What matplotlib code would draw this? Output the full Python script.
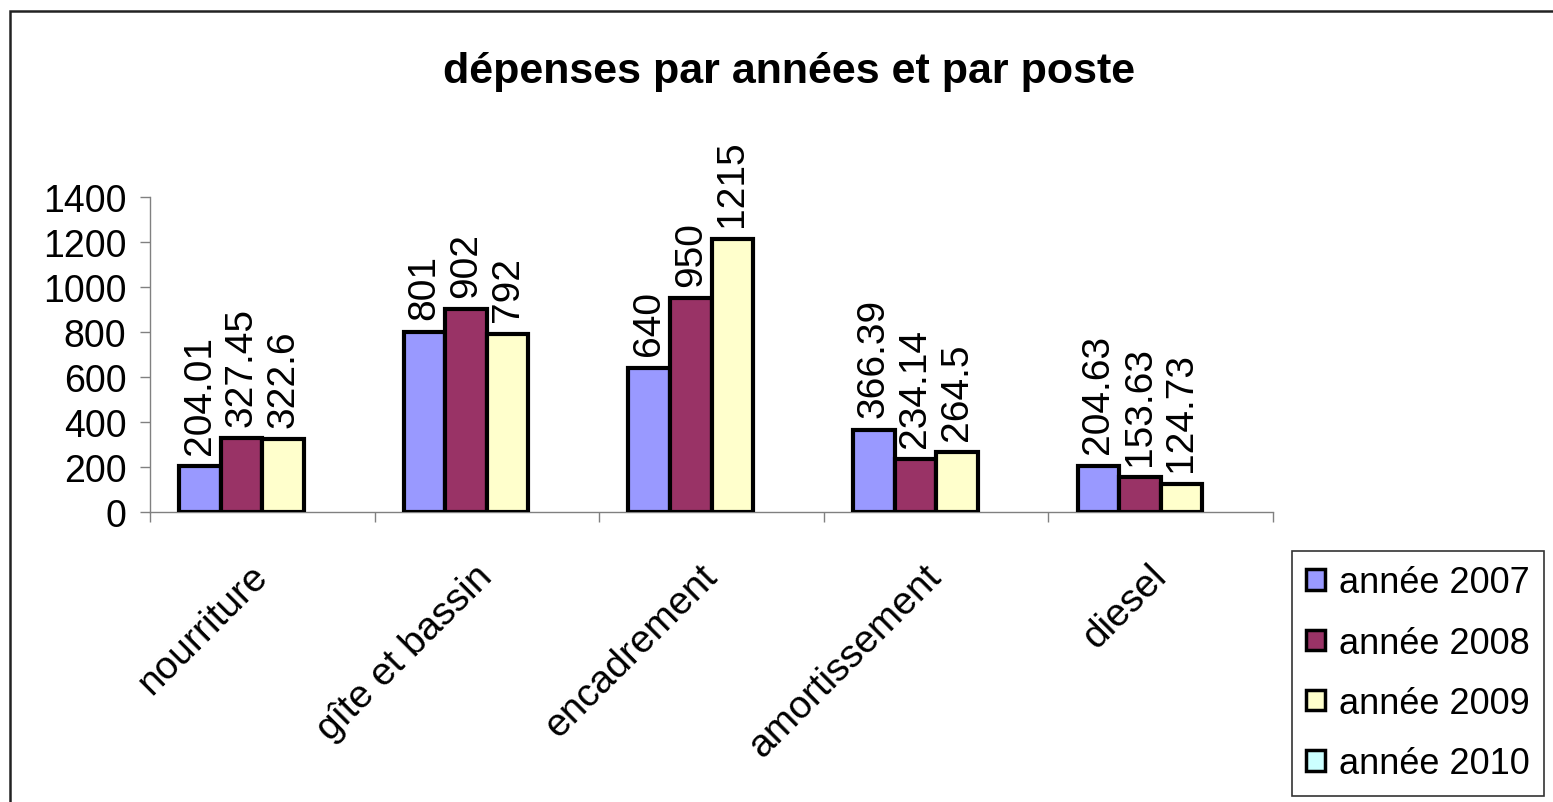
import numpy as np
import matplotlib.pyplot as plt
from matplotlib.patches import Rectangle

plt.rcParams['font.family'] = ['Liberation Sans', 'DejaVu Sans']

postes = ["nourriture", "gîte et bassin", "encadrement", "amortissement", "diesel"]
annees = ["année 2007", "année 2008", "année 2009", "année 2010"]
v2007 = [204.01, 801, 640, 366.39, 204.63]
v2008 = [327.45, 902, 950, 234.14, 153.63]
v2009 = [322.6, 792, 1215, 264.5, 124.73]
v2010 = [np.nan, np.nan, np.nan, np.nan, np.nan]  # no values for 2010
couleurs = ["#9999FF", "#993366", "#FFFFCC", "#CCFFFF"]

fig = plt.figure(figsize=(15.53, 8.03), dpi=100)
ax = fig.add_axes([150/1553, 1 - 513/803, (1273 - 150)/1553, (513 - 198)/803])

x = np.arange(len(postes))
w = 0.185
series = [v2007, v2008, v2009, v2010]
for i, vals in enumerate(series):
    pos = x + (i - 1.5) * w
    ax.bar(pos, vals, w, color=couleurs[i], edgecolor='black', linewidth=3,
           label=annees[i], zorder=3)
    for p, v in zip(pos, vals):
        if not np.isnan(v):
            ax.annotate(f"{v:g}", (p, v), xytext=(0, 9), textcoords='offset points',
                        rotation=90, ha='center', va='bottom', fontsize=28)

ax.set_xlim(-0.5, len(postes) - 0.5)
ax.set_ylim(0, 1400)
ax.set_yticks(range(0, 1401, 200))
ax.set_xticks(np.arange(-0.5, len(postes), 1.0))
ax.set_xticklabels([])
ax.set_xticks(x, minor=True)
ax.set_xticklabels(postes, minor=True, rotation=45, ha='right', va='center',
                   rotation_mode='anchor', fontsize=28)
ax.tick_params(axis='x', which='minor', length=0, pad=42)
ax.tick_params(axis='x', which='major', direction='out', length=7, width=1, color='#808080')
ax.tick_params(axis='y', direction='out', length=7, width=1, color='#808080', labelsize=27, pad=10)

for s in ['top', 'right']:
    ax.spines[s].set_visible(False)
for s in ['left', 'bottom']:
    ax.spines[s].set_color('#808080')
    ax.spines[s].set_linewidth(1)

fig.text(789/1553, 1 - 72/803, "dépenses par années et par poste", ha='center', va='center',
         fontsize=31, fontweight='bold')

leg = fig.legend(loc='upper left', bbox_to_anchor=(1292/1553, 1 - 552/803), fontsize=26,
                 frameon=True, fancybox=False, edgecolor='black', handlelength=0.5,
                 handleheight=0.5, handletextpad=0.4, labelspacing=0.7,
                 borderpad=0.4, borderaxespad=0)
leg.get_frame().set_linewidth(1.2)
for h in leg.legend_handles:
    h.set_linewidth(2.5)

fig.patches.append(Rectangle((10/1553, -0.1), 1.2, 1 - 12/803 + 0.1, transform=fig.transFigure,
                             fill=False, edgecolor='#222222', linewidth=1.8))

fig.savefig("out.png", dpi=100)
